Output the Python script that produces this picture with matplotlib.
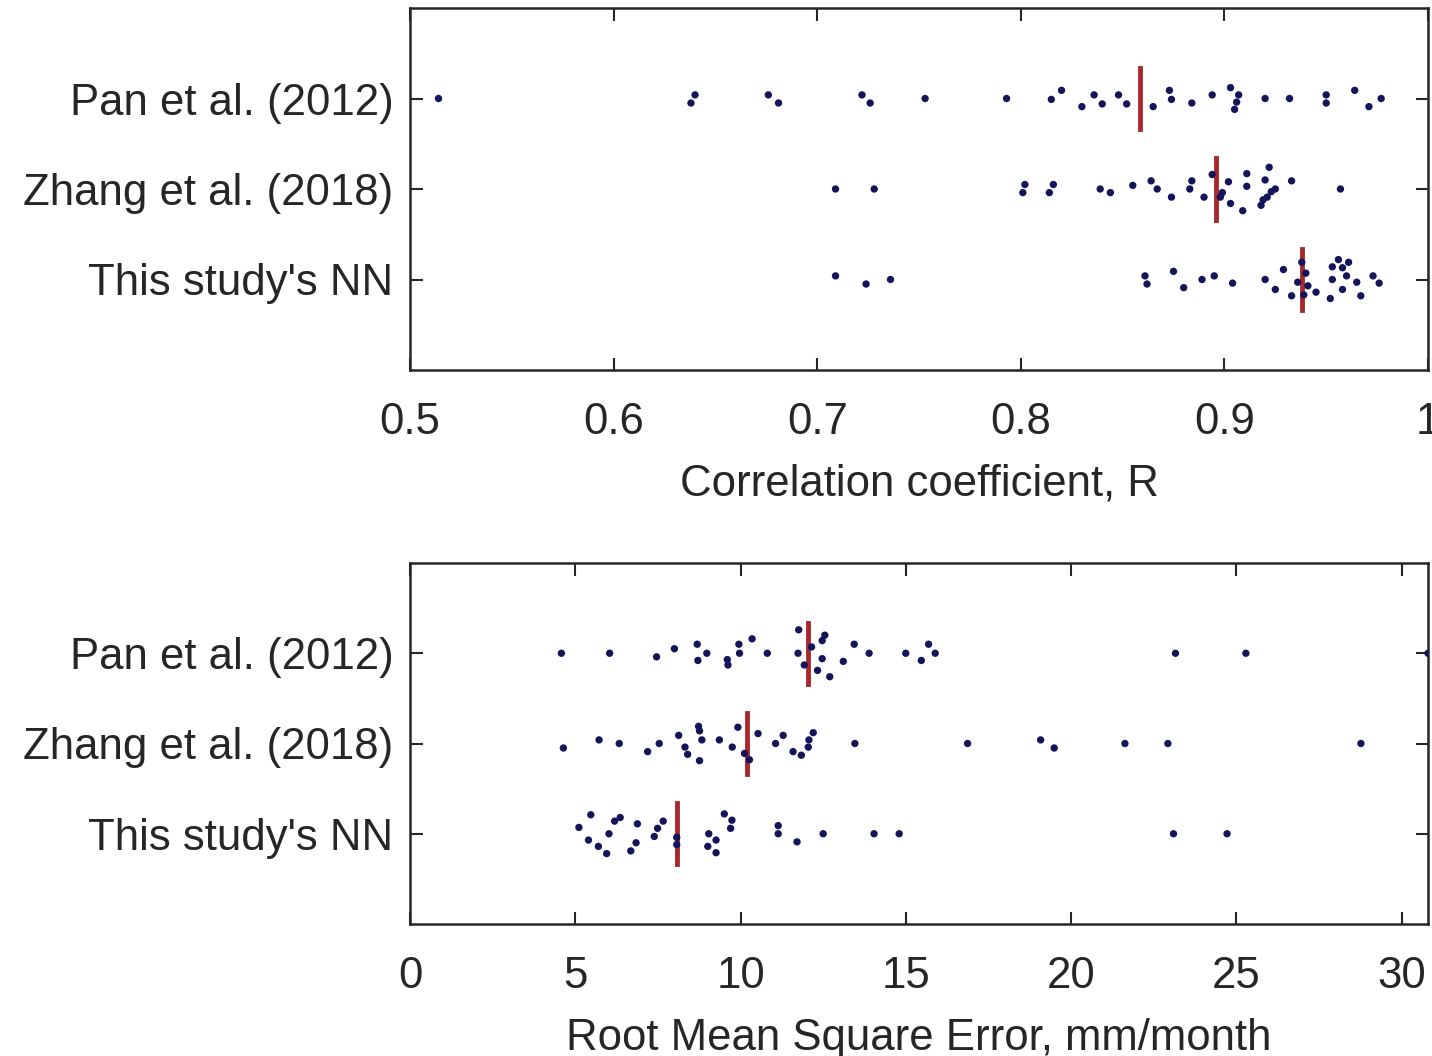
import matplotlib.pyplot as plt
import numpy as np

plt.rcParams['font.family'] = ['Liberation Sans', 'DejaVu Sans']

groups = ["Pan et al. (2012)", "Zhang et al. (2018)", "This study's NN"]

# correlation coefficient R, with the vertical jitter of each dot
r_pan = [0.514, 0.640, 0.638, 0.676, 0.681, 0.722, 0.726, 0.753, 0.793, 0.815,
         0.820, 0.830, 0.836, 0.840, 0.848, 0.852, 0.865, 0.873, 0.874, 0.884,
         0.894, 0.903, 0.907, 0.906, 0.905, 0.920, 0.932, 0.950, 0.950, 0.964,
         0.971, 0.977]
r_pan_jit = [0, -0.04, 0.05, -0.04, 0.05, -0.04, 0.05, 0, 0, 0.01,
             -0.09, 0.09, -0.04, 0.06, -0.04, 0.06, 0.09, -0.09, 0.01, 0.05,
             -0.04, -0.12, -0.04, 0.04, 0.12, 0, 0, -0.04, 0.05, -0.09,
             0.09, 0]
r_zhang = [0.709, 0.728, 0.802, 0.801, 0.816, 0.814, 0.839, 0.844, 0.855, 0.864,
           0.867, 0.874, 0.884, 0.883, 0.890, 0.894, 0.899, 0.898, 0.902, 0.903,
           0.909, 0.911, 0.911, 0.922, 0.920, 0.925, 0.923, 0.921, 0.919, 0.918,
           0.933, 0.957]
r_zhang_jit = [0, 0, -0.05, 0.04, -0.05, 0.04, 0, 0.04, -0.04, -0.09,
               0, 0.09, -0.09, 0, 0.09, -0.16, 0.04, 0.09, -0.08, 0.16,
               0.24, -0.17, -0.03, -0.24, -0.10, 0, 0.03, 0.09, 0.12, 0.18,
               -0.09, 0]
r_nn = [0.709, 0.724, 0.736, 0.861, 0.862, 0.875, 0.880, 0.889, 0.895, 0.904,
        0.920, 0.925, 0.929, 0.933, 0.938, 0.940, 0.936, 0.941, 0.939, 0.945,
        0.952, 0.953, 0.953, 0.956, 0.961, 0.958, 0.960, 0.958, 0.965, 0.967,
        0.973, 0.976]
r_nn_jit = [-0.04, 0.05, 0, -0.04, 0.05, -0.09, 0.09, 0, -0.04, 0.04,
            0, 0.11, -0.11, 0.18, -0.19, -0.07, 0.03, 0.07, 0.17, 0.14,
            0.21, 0, -0.14, -0.22, -0.19, -0.13, -0.04, 0.11, 0.03, 0.18,
            -0.04, 0.04]
r_median = [0.8585, 0.896, 0.938]

# RMSE, mm/month
e_pan = [4.58, 6.04, 7.46, 8.00, 8.69, 8.71, 8.98, 9.60, 9.62, 9.95,
         9.97, 10.35, 10.81, 11.76, 11.74, 11.93, 12.15, 12.55, 12.47, 12.47,
         12.33, 12.70, 13.11, 13.44, 13.89, 15.00, 15.47, 15.69, 15.89, 23.16,
         25.29, 30.8]
e_pan_jit = [0, 0, 0.04, -0.05, -0.10, 0.08, 0, 0.07, 0.13, -0.10,
             0, -0.16, 0, -0.26, 0, 0.13, -0.07, -0.20, -0.14, 0.06,
             0.19, 0.26, 0.09, -0.10, 0, 0, 0.08, -0.10, 0, 0,
             0, 0]
e_zhang = [4.64, 5.72, 6.33, 7.19, 7.54, 8.13, 8.32, 8.40, 8.73, 8.76,
           8.83, 8.76, 9.36, 9.75, 9.92, 10.12, 10.27, 10.53, 11.06, 11.29,
           11.59, 11.84, 12.05, 12.07, 12.20, 13.46, 16.87, 19.08, 19.49, 21.63,
           22.93, 28.77]
e_zhang_jit = [0.05, -0.04, 0, 0.09, 0, -0.09, 0.04, 0.12, -0.19, -0.14,
               -0.04, 0.19, -0.04, 0.04, -0.18, 0.11, 0.18, -0.11, 0, -0.09,
               0.09, 0.13, 0.04, -0.04, -0.12, 0, 0, -0.04, 0.05, 0,
               0, 0]
e_nn = [5.11, 5.47, 5.40, 5.70, 5.95, 6.02, 6.19, 6.36, 6.68, 6.88,
        6.84, 7.39, 7.49, 7.66, 8.07, 8.07, 9.04, 9.26, 9.01, 9.26,
        9.51, 9.74, 9.70, 11.14, 11.14, 11.71, 12.50, 14.04, 14.80, 23.10,
        24.72]
e_nn_jit = [-0.07, -0.21, 0.07, 0.14, 0.22, 0, -0.14, -0.18, 0.19, -0.11,
            0.10, 0.03, -0.06, -0.14, 0.04, 0.12, 0, 0.07, 0.14, 0.21,
            -0.22, -0.15, -0.06, -0.09, 0, 0.09, 0, 0, 0, 0,
            0]
e_median = [12.05, 10.20, 8.07]

r_ticks = [0.5, 0.6, 0.7, 0.8, 0.9, 1.0]
r_ticklabels = ['0.5', '0.6', '0.7', '0.8', '0.9', '1']
e_ticks = [0, 5, 10, 15, 20, 25, 30]

dot_col = '#14145a'
med_col = '#a8282e'
ax_col = '#262626'

fig = plt.figure(figsize=(14.32, 10.56), dpi=100)
ax1 = fig.add_axes([410/1432, 1-370/1056, 1018/1432, 362/1056])
ax2 = fig.add_axes([410/1432, 1-924/1056, 1018/1432, 361/1056])


def swarm(ax, vals, jits, medians, xlim, ticks, ticklabels, xlabel):
    for i, (v, j) in enumerate(zip(vals, jits)):
        y = i + 1 + np.array(j)
        ax.scatter(v, y, s=28, color=dot_col, edgecolors='none', zorder=3)
        ax.plot([medians[i], medians[i]], [i + 1 - 0.34, i + 1 + 0.34],
                color=med_col, lw=3.5, zorder=2)
    ax.set_xlim(xlim)
    ax.set_ylim(4, 0)
    ax.set_yticks([1, 2, 3])
    ax.set_yticklabels(groups)
    ax.set_xticks(ticks)
    ax.set_xticklabels(ticklabels)
    ax.set_xlabel(xlabel, fontsize=31.5, color=ax_col, labelpad=15)
    ax.tick_params(axis='both', direction='in', length=9, width=1.5,
                   top=True, right=True, labelsize=31.5, colors=ax_col)
    ax.tick_params(axis='x', pad=23)
    ax.tick_params(axis='y', pad=12)
    for s in ax.spines.values():
        s.set_linewidth(1.8)
        s.set_color(ax_col)


swarm(ax1, [r_pan, r_zhang, r_nn], [r_pan_jit, r_zhang_jit, r_nn_jit],
      r_median, (0.5, 1.0), r_ticks, r_ticklabels, 'Correlation coefficient, R')
swarm(ax2, [e_pan, e_zhang, e_nn], [e_pan_jit, e_zhang_jit, e_nn_jit],
      e_median, (0, 30.8), e_ticks, [str(t) for t in e_ticks],
      'Root Mean Square Error, mm/month')

fig.savefig('out.png', dpi=100)
